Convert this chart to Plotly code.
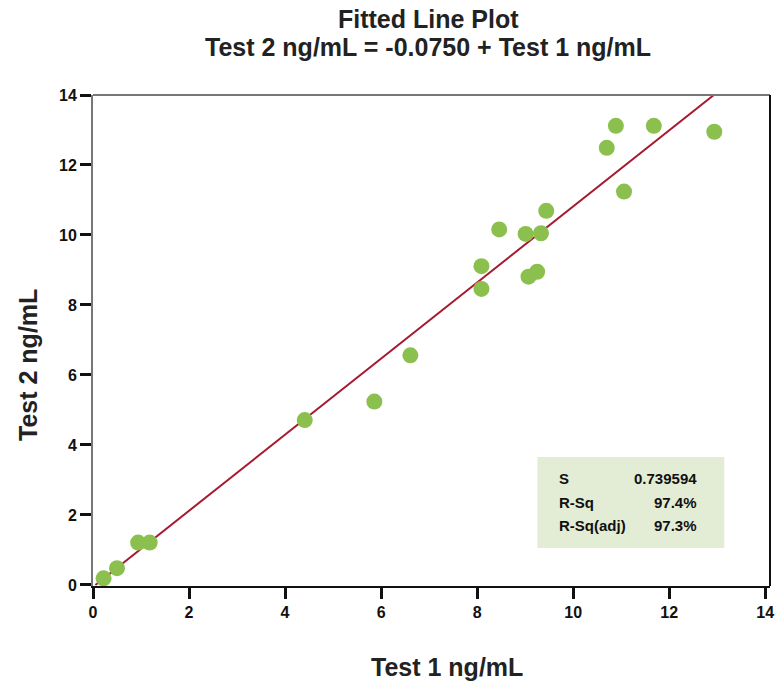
import plotly.graph_objects as go

# Data
test1 = [0.22, 0.50, 0.94, 1.18, 4.41, 5.86, 6.61, 8.09, 8.09, 8.46, 9.01, 9.07,
         9.25, 9.33, 9.44, 10.70, 10.89, 11.06, 11.68, 12.94]
test2 = [0.19, 0.48, 1.21, 1.21, 4.71, 5.24, 6.56, 8.46, 9.11, 10.16, 10.03, 8.81,
         8.95, 10.05, 10.69, 12.49, 13.12, 11.24, 13.12, 12.95]
fit_x = [0.05, 12.93]
fit_y = [0.0, 14.0]
x_ticks = [0, 2, 4, 6, 8, 10, 12, 14]
y_ticks = [0, 2, 4, 6, 8, 10, 12, 14]
stat_labels = ["S", "R-Sq", "R-Sq(adj)"]
stat_values = ["0.739594", "97.4%", "97.3%"]

FONT = "Liberation Sans, Arial, sans-serif"

fig = go.Figure()
fig.add_trace(go.Scatter(x=fit_x, y=fit_y, mode="lines",
                         line=dict(color="#a51a2e", width=2), hoverinfo="skip"))
fig.add_trace(go.Scatter(x=test1, y=test2, mode="markers",
                         marker=dict(color="#8bc04f", size=16, line=dict(width=0))))

tickfont = dict(size=16, family=FONT, color="#111")
R = 9
fig.update_layout(
    width=783, height=683,
    margin=dict(l=93, r=R, t=95, b=97),
    paper_bgcolor="white", plot_bgcolor="white",
    showlegend=False,
    font=dict(family=FONT, color="#111"),
    xaxis=dict(range=[0, 14.1], tickvals=x_ticks,
               ticktext=["<b>%d</b>" % v for v in x_ticks],
               ticks="outside", ticklen=11,
               tickwidth=3, tickcolor="#111", showgrid=False, zeroline=False,
               showline=True, linecolor="#111", linewidth=2, tickfont=tickfont),
    yaxis=dict(range=[-0.03, 14], tickvals=y_ticks,
               ticktext=["<b>%d</b>" % v for v in y_ticks],
               ticks="outside", ticklen=11,
               tickwidth=3, tickcolor="#111", showgrid=False, zeroline=False,
               showline=True, linecolor="#777", linewidth=2, tickfont=tickfont),
)

PW = 783 - 93 - R

# top (gray) and right (black) borders
fig.add_shape(type="line", xref="paper", yref="paper", x0=0, x1=1, y0=1, y1=1,
              line=dict(color="#777", width=2))
fig.add_shape(type="line", xref="paper", yref="paper", x0=1, x1=1, y0=0, y1=1,
              line=dict(color="#111", width=2))

# Title
fig.add_annotation(text="<b>Fitted Line Plot</b>", xref="paper", yref="paper",
                   x=(430 - 93) / PW, y=1, yshift=76, showarrow=False, yanchor="middle",
                   font=dict(size=25, family=FONT, color="#222"))
fig.add_annotation(text="<b>Test 2 ng/mL = -0.0750 + Test 1 ng/mL</b>", xref="paper", yref="paper",
                   x=(430 - 93) / PW, y=1, yshift=48, showarrow=False, yanchor="middle",
                   font=dict(size=25, family=FONT, color="#222"))
# Axis titles
fig.add_annotation(text="<b>Test 1 ng/mL</b>", xref="paper", yref="paper",
                   x=(449 - 93) / PW, y=0, yshift=-81, showarrow=False, yanchor="middle",
                   font=dict(size=25, family=FONT, color="#222"))
fig.add_annotation(text="<b>Test 2 ng/mL</b>", xref="paper", yref="paper",
                   x=0, xshift=-65, y=(586 - 365) / 491, showarrow=False, textangle=-90,
                   xanchor="center", yanchor="middle",
                   font=dict(size=25, family=FONT, color="#222"))

# Stats box
x0p = (540 - 93) / PW
x1p = (728 - 93) / PW
y0p = (586 - 548) / 491
y1p = (586 - 457) / 491
fig.add_shape(type="rect", xref="paper", yref="paper", x0=x0p, x1=x1p, y0=y0p, y1=y1p,
              fillcolor="#e3edd6", line=dict(width=0), layer="below")
row_y = [478, 502, 525]
for lab, val, ry in zip(stat_labels, stat_values, row_y):
    yp = (586 - ry) / 491
    fig.add_annotation(text="<b>" + lab + "</b>", xref="paper", yref="paper",
                       x=(560 - 93) / PW, y=yp, xanchor="left", yanchor="middle",
                       showarrow=False, font=dict(size=15, family=FONT, color="#111"))
    fig.add_annotation(text="<b>" + val + "</b>", xref="paper", yref="paper",
                       x=(703 - 93) / PW, y=yp, xanchor="right", yanchor="middle",
                       showarrow=False, font=dict(size=15, family=FONT, color="#111"))

fig.write_html("out.html", config={"displayModeBar": False},
               post_script="document.body.style.margin='0';document.body.style.overflow='hidden';")
